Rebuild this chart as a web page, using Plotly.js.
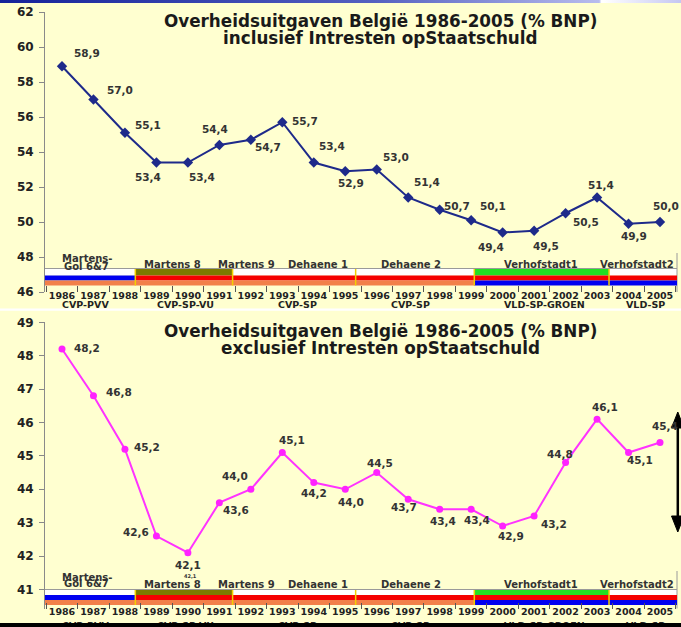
<!DOCTYPE html>
<html><head><meta charset="utf-8">
<script src="https://cdn.plot.ly/plotly-3.0.1.min.js"></script>
<style>
html,body{margin:0;padding:0;background:#FFFFD0;overflow:hidden;width:681px;height:627px}
#chart{width:681px;height:627px;position:absolute;left:0;top:0}
#topstrip{position:absolute;left:0;top:0;width:681px;height:3px;background:linear-gradient(to right,#15229a,#5560c0 55%,#b8bcee 88%,#fff 88.3%,#fff 88.6%,#c4c6f2);z-index:5}
#botbar{position:absolute;left:0;top:623px;width:681px;height:4px;background:#000;z-index:5}
</style></head><body>
<div id="chart"></div><div id="topstrip"></div><div id="botbar"></div>
<script>
// ---- data ----
const years = ['1986','1987','1988','1989','1990','1991','1992','1993','1994','1995',
               '1996','1997','1998','1999','2000','2001','2002','2003','2004','2005'];
const inclValues = [58.9,57.0,55.1,53.4,53.4,54.4,54.7,55.7,53.4,52.9,
                    53.0,51.4,50.7,50.1,49.4,49.5,50.5,51.4,49.9,50.0];
const exclValues = [48.2,46.8,45.2,42.6,42.1,43.6,44.0,45.1,44.2,44.0,
                    44.5,43.7,43.4,43.4,42.9,43.2,44.8,46.1,45.1,45.4];
const titleLine1 = 'Overheidsuitgaven België 1986-2005 (% BNP)';
const titleInclLine2 = 'inclusief Intresten opStaatschuld';
const titleExclLine2 = 'exclusief Intresten opStaatschuld';
const cabinetNames = ['Martens 8','Martens 9','Dehaene 1','Dehaene 2','Verhofstadt1','Verhofstadt2'];
const firstCabinetLines = ['Martens-','Gol 6&7'];
const coalitionNames = ['CVP-PVV','CVP-SP-VU','CVP-SP','CVP-SP','VLD-SP-GROEN','VLD-SP'];
// coalition party colours by band row (top, middle, bottom)
const coalitionTopRow = [null,'olive',null,null,'green',null];
const coalitionMidRow = ['blue','red','red','red','red','red'];
const coalitionBotRow = ['orange','orange','orange','orange','blue','blue'];

// ---- positions & styles (not data) ----
const W = 681, H = 627;
const fx = p => p / W;
const fy = p => (H - p) / H;
const XMIN = -0.54, XMAX = 19.54;
const coalitionStart = [XMIN, 2.33, 5.42, 9.33, 13.1, 17.38];
const coalitionEnd   = [2.33, 5.42, 9.33, 13.1, 17.38, XMAX];
const coalitionLabelPos = [0.76, 3.92, 7.48, 11.07, 15.32, 18.55];
const cabinetLabelPos = [3.5, 5.85, 8.13, 11.09, 15.22, 18.27];
const firstCabinetPos = 0.79;
const partyColors = {blue:'#0000F0', red:'#F50000', orange:'#F2804A', olive:'#7C7A00', green:'#22E022'};
const inclDx = [25,27,23,-8,14,-4,17,23,18,6,19,19,17,22,-12,12,20,4,5,6];
const inclDy = [13,10,8,-14,-14,16,-7,1,17,-12,12.5,16,4,14,-14.5,-15.5,-9,13,-12.5,15.7];
const exclDx = [25,26,22,-20,0,17,-16,10,0,6,3,-4,3,6,8,20,-5.5,7.5,11,5];
const exclDy = [1,4,2,4.5,-12,-7.5,13,12.5,-10,-13,10,-8,-12,-11,-10,-8,9,12.5,-7.5,16.7];

const FONT = 'DejaVu Sans';
const fmt = v => v.toFixed(1).replace('.', ',');

const panels = [
  {xa:'x', ya:'y', values:inclValues, dx:inclDx, dy:inclDy, line2:titleInclLine2,
   t1:21, t2:38.5, gray:268.5, rows:[[269,275.5],[275.5,280.5],[280.5,285.5]],
   cab:264, cab1a:258, cab1b:266.5, coal:304, frameTop:253, axisBottom:292},
  {xa:'x2', ya:'y2', values:exclValues, dx:exclDx, dy:exclDy, line2:titleExclLine2,
   t1:330.5, t2:347.5, gray:589.5, rows:[[590,595],[595,600],[600,605]],
   cab:584, cab1a:577, cab1b:583.5, coal:625.5, frameTop:571, axisBottom:608.5}
];

const traces = [
  {x:years, y:inclValues, xaxis:'x', yaxis:'y', type:'scatter', mode:'lines+markers',
   line:{color:'#1E2A8A', width:2}, marker:{symbol:'diamond', size:8, color:'#1E2A8A'},
   hoverinfo:'x+y'},
  {x:years, y:exclValues, xaxis:'x2', yaxis:'y2', type:'scatter', mode:'lines+markers',
   line:{color:'#FF33FF', width:2}, marker:{symbol:'circle', size:7, color:'#FF22FF'},
   hoverinfo:'x+y'}
];

const shapes = [];
const annotations = [];

panels.forEach(p => {
  shapes.push({type:'rect', xref:p.xa, yref:'paper', x0:XMIN, x1:XMAX, y0:fy(p.rows[0][1]), y1:fy(p.gray),
    fillcolor:'#FFFFFF', line:{width:0}, layer:'below'});
  shapes.push({type:'line', xref:p.xa, yref:'paper', x0:XMIN, x1:XMAX, y0:fy(p.gray), y1:fy(p.gray),
    line:{color:'#9A9A9A', width:1}, layer:'below'});
  shapes.push({type:'line', xref:'paper', yref:'paper', x0:fx(677), x1:fx(677), y0:fy(p.frameTop), y1:fy(p.axisBottom),
    line:{color:'#9A9A9A', width:1}, layer:'below'});
  const rowsCols = [coalitionTopRow, coalitionMidRow, coalitionBotRow];
  coalitionNames.forEach((c, i) => {
    rowsCols.forEach((arr, r) => {
      if (!arr[i]) return;
      shapes.push({type:'rect', xref:p.xa, yref:'paper', x0:coalitionStart[i], x1:coalitionEnd[i],
        y0:fy(p.rows[r][1]), y1:fy(p.rows[r][0]), fillcolor:partyColors[arr[i]], line:{width:0}, layer:'below'});
    });
    if (i > 0) {
      shapes.push({type:'line', xref:p.xa, yref:'paper', x0:coalitionStart[i], x1:coalitionStart[i],
        y0:fy(p.rows[2][1]), y1:fy(p.rows[0][0]), line:{color:'#F2D000', width:1.5}, layer:'below'});
    }
    annotations.push({xref:p.xa, yref:'paper', x:coalitionLabelPos[i], y:fy(p.coal), text:c, showarrow:false,
      xanchor:'center', yanchor:'middle', font:{family:FONT, size:9.5, weight:'bold', color:'#222'}});
  });
  cabinetNames.forEach((c, i) => {
    annotations.push({xref:p.xa, yref:'paper', x:cabinetLabelPos[i], y:fy(p.cab), text:c, showarrow:false,
      xanchor:'center', yanchor:'middle', font:{family:FONT, size:10, weight:'bold', color:'#333'}});
  });
  annotations.push({xref:p.xa, yref:'paper', x:firstCabinetPos, y:fy(p.cab1a), text:firstCabinetLines[0], showarrow:false,
    xanchor:'center', yanchor:'middle', font:{family:FONT, size:10, weight:'bold', color:'#333'}});
  annotations.push({xref:p.xa, yref:'paper', x:firstCabinetPos, y:fy(p.cab1b), text:firstCabinetLines[1], showarrow:false,
    xanchor:'center', yanchor:'middle', font:{family:FONT, size:10, weight:'bold', color:'#333'}});
  annotations.push({xref:'paper', yref:'paper', x:fx(380.5), y:fy(p.t1), text:titleLine1, showarrow:false,
    xanchor:'center', yanchor:'middle', font:{family:FONT, size:16.8, weight:'bold', color:'#1a1a1a'}});
  annotations.push({xref:'paper', yref:'paper', x:fx(380.5), y:fy(p.t2), text:p.line2, showarrow:false,
    xanchor:'center', yanchor:'middle', font:{family:FONT, size:16.8, weight:'bold', color:'#1a1a1a'}});
  p.values.forEach((v, i) => {
    annotations.push({xref:p.xa, yref:p.ya, x:i, y:v, text:fmt(v), showarrow:false,
      xshift:p.dx[i], yshift:p.dy[i], xanchor:'center', yanchor:'middle',
      font:{family:FONT, size:10.5, weight:'bold', color:'#333'}});
  });
});
annotations.push({xref:'x2', yref:'paper', x:4.07, y:fy(576), text:fmt(exclValues[4]), showarrow:false,
  xanchor:'center', yanchor:'middle', font:{family:FONT, size:5, weight:'bold', color:'#333'}});

shapes.push({type:'rect', xref:'paper', yref:'paper', x0:0, x1:1, y0:fy(310.8), y1:fy(308.4),
  fillcolor:'#FFFFFF', line:{width:0}, layer:'below'});
shapes.push({type:'line', xref:'paper', yref:'paper', x0:fx(677.8), x1:fx(677.8), y0:fy(426), y1:fy(518),
  line:{color:'#000', width:2.5}, layer:'above'});
shapes.push({type:'path', xref:'paper', yref:'paper', layer:'above', fillcolor:'#000', line:{color:'#000', width:1},
  path:`M ${fx(677.8)} ${fy(412)} L ${fx(671.5)} ${fy(428)} L ${fx(684)} ${fy(428)} Z`});
shapes.push({type:'path', xref:'paper', yref:'paper', layer:'above', fillcolor:'#000', line:{color:'#000', width:1},
  path:`M ${fx(677.8)} ${fy(532)} L ${fx(671.5)} ${fy(516)} L ${fx(684)} ${fy(516)} Z`});

const xAxisBase = {type:'category', range:[XMIN, XMAX], tickson:'boundaries', ticks:'inside', ticklen:6,
  tickcolor:'#555', tickwidth:1, showline:false, showgrid:false, zeroline:false, fixedrange:true, tickangle:0,
  tickfont:{family:FONT, size:9.5, weight:'bold', color:'#222'}, ticklabelstandoff:-4};
const yAxisBase = {ticks:'outside', ticklen:5, tickcolor:'#888', showline:true, linecolor:'#8A8A8A', linewidth:1,
  showgrid:false, zeroline:false, fixedrange:true, tickfont:{family:FONT, size:12, weight:'bold', color:'#222'},
  ticklabelstandoff:3};

const layout = {
  width:W, height:H, margin:{l:0, r:0, t:0, b:0},
  paper_bgcolor:'#FFFFD0', plot_bgcolor:'rgba(0,0,0,0)', showlegend:false,
  font:{family:FONT, color:'#222'},
  xaxis: Object.assign({}, xAxisBase, {domain:[fx(45), fx(677)], anchor:'y'}),
  yaxis: Object.assign({}, yAxisBase, {domain:[fy(292), fy(12)], range:[46, 62], dtick:2, tick0:46, anchor:'x'}),
  xaxis2: Object.assign({}, xAxisBase, {domain:[fx(45), fx(677)], anchor:'y2'}),
  yaxis2: Object.assign({}, yAxisBase, {domain:[fy(608.5), fy(322.3)], range:[40.43, 49], dtick:1, tick0:41, anchor:'x2'}),
  shapes: shapes,
  annotations: annotations
};

Plotly.newPlot('chart', traces, layout, {staticPlot:true, displayModeBar:false});
</script>
</body></html>
